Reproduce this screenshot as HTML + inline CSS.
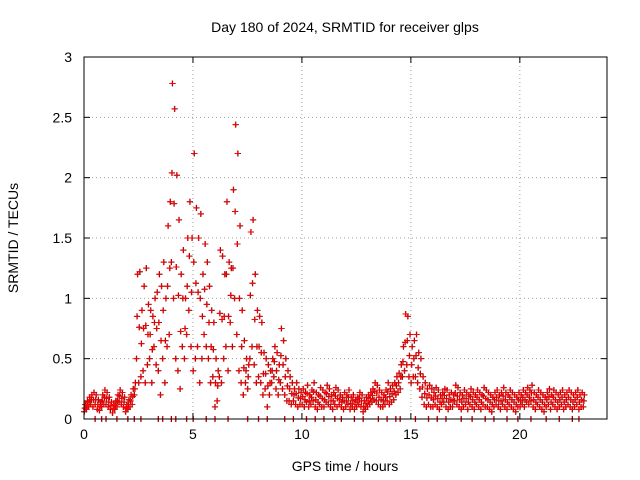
<!DOCTYPE html>
<html><head><meta charset="utf-8">
<style>
body{margin:0;background:#fff;}
svg{display:block;font-family:"Liberation Sans",sans-serif;}
</style></head>
<body>
<svg id="chart" width="640" height="480" viewBox="0 0 640 480">
<rect width="640" height="480" fill="#fff"/>
<text x="345" y="32" font-size="14" text-anchor="middle">Day 180 of 2024, SRMTID for receiver glps</text>
<text x="0" y="0" font-size="14" text-anchor="middle" transform="translate(18,238) rotate(-90)">SRMTID / TECUs</text>
<text x="345" y="471" font-size="14" text-anchor="middle">GPS time / hours</text>
<g id="grid"></g><g id="marks"></g><g id="axes"></g>
</svg>
<script>
const xTicks=[0,5,10,15,20];
const yTicks=[0,0.5,1,1.5,2,2.5,3];
const yTickLabels=["0","0.5","1","1.5","2","2.5","3"];
const step=0.1;
const hiVals=[.12,.15,.18,.2,.22,.2,.16,.14,.2,.24,.22,.18,.14,.12,.15,.2,.24,.22,.18,.12,
.16,.2,.25,.3,1.2,1.22,.9,1.1,1.25,.95,
.9,.85,1.0,1.05,1.2,1.1,1.3,1.0,1.6,1.8,
2.78,2.57,2.02,1.65,1.2,1.4,1.0,1.5,1.8,1.5,
2.2,1.75,1.5,1.7,1.2,1.45,1.3,1.1,.9,.8,
.5,.4,1.4,1.35,1.2,1.8,1.3,1.25,1.9,2.44,
2.2,1.6,.9,.65,.5,.45,1.55,1.65,1.2,.9,
.85,.8,.55,.5,.45,.4,.5,.6,.55,.45,
.75,.65,.5,.4,.35,.3,.25,.3,.25,.22,
.25,.22,.28,.2,.24,.3,.22,.2,.26,.24,.22,.28,.25,.2,.22,.26,.24,.2,.18,.22,
.2,.24,.18,.2,.16,.18,.22,.2,.15,.18,.2,.22,.25,.3,.28,.24,.22,.2,.24,.3,.25,.28,.3,.35,.38,
.45,.6,.87,.85,.7,
.6,.65,.7,.55,.5,.35,.3,.25,.28,.25,
.22,.26,.24,.2,.22,.25,.24,.2,.22,.2,.28,.26,.22,.2,.24,.22,.2,.25,.22,.2,
.24,.22,.2,.26,.24,.22,.2,.18,.22,.24,.2,.22,.26,.22,.2,.24,.22,.2,.18,.22,
.2,.24,.22,.26,.24,.28,.22,.2,.24,.22,.2,.18,.22,.25,.2,.24,.22,.2,.22,.24,
.2,.22,.24,.22,.2,.22,.24,.2,.22,.2];
const loVals=[.06,.08,.1,.12,.1,.12,.08,.07,.1,.12,.12,.1,.08,.05,.08,.1,.14,.12,.1,.06,
.08,.1,.12,.2,.5,.3,.35,.4,.3,.45,
.5,.3,.6,.45,.4,.2,.5,.3,.6,.7,
1.3,1.0,.5,.4,.25,.6,.5,.7,.9,.6,
.4,.5,.6,.3,.5,.7,.6,.5,.3,.35,
.1,.15,.35,.3,.5,.6,.4,.8,.6,1.0,
.7,.4,.3,.2,.3,.25,.5,.6,.45,.3,
.35,.3,.2,.25,.1,.2,.3,.35,.25,.2,
.3,.25,.2,.15,.15,.12,.15,.12,.1,.12,
.12,.1,.14,.1,.12,.15,.1,.08,.12,.1,.1,.14,.12,.1,.08,.12,.1,.12,.1,.08,
.1,.12,.08,.1,.08,.1,.12,.1,.06,.08,.1,.12,.14,.16,.15,.12,.1,.1,.12,.15,.12,.14,.16,.2,.22,
.25,.35,.4,.45,.35,
.3,.35,.35,.3,.25,.18,.12,.1,.12,.1,
.1,.12,.1,.08,.12,.14,.1,.08,.1,.1,.15,.12,.1,.08,.1,.12,.08,.12,.1,.08,
.12,.1,.08,.12,.1,.1,.08,.06,.1,.12,.1,.08,.12,.1,.08,.12,.1,.08,.06,.1,
.1,.12,.1,.14,.12,.15,.1,.08,.12,.1,.08,.06,.1,.12,.08,.12,.1,.08,.1,.12,
.08,.1,.12,.1,.08,.1,.12,.08,.1,.1];
const zeroTimes=[0.5,0.8,1.0,1.5,2.0,2.3,2.6,3.4,3.6,4.0,4.2,4.7,5.0,5.6,6.0,6.6,7.5,8.0,8.4,9.2,9.6,10.2,10.6,11.0,11.5,11.8,12.4,12.8,13.5,13.9,14.3,14.5,15.2,15.8,16.2,16.6,17.3,17.8,18.4,18.8,19.4,19.9,20.5,21.2,21.8,22.4,22.7];

const X0=84,X1=607,Y0=419,Y1=57,XMAX=24,YMAX=3;
const sx=t=>X0+(X1-X0)*t/XMAX;
const sy=v=>Y0-(Y0-Y1)*v/YMAX;
const NS="http://www.w3.org/2000/svg";
function mk(tag,attrs,parent){const e=document.createElementNS(NS,tag);for(const k in attrs)e.setAttribute(k,attrs[k]);parent.appendChild(e);return e;}
const grid=document.getElementById('grid'),axes=document.getElementById('axes'),marks=document.getElementById('marks');

xTicks.forEach((t,i)=>{
  if(t>0){const g=mk('line',{x1:sx(t),x2:sx(t),y1:Y0,y2:Y1,stroke:'#a0a0a0','stroke-dasharray':'1,3'},grid);
  
  }
  mk('line',{x1:sx(t),x2:sx(t),y1:Y0,y2:Y0-6,stroke:'#000'},axes);
  mk('line',{x1:sx(t),x2:sx(t),y1:Y1,y2:Y1+6,stroke:'#000'},axes);
  const l=mk('text',{x:sx(t),y:Y0+20,'font-size':14,'text-anchor':'middle'},axes);
  l.textContent=String(t);
  
  
});
yTicks.forEach((v,i)=>{
  if(v>0&&v<YMAX){const g=mk('line',{x1:X0,x2:X1,y1:sy(v),y2:sy(v),stroke:'#a0a0a0','stroke-dasharray':'1,3'},grid);
  
  }
  mk('line',{x1:X0,x2:X0+6,y1:sy(v),y2:sy(v),stroke:'#000'},axes);
  mk('line',{x1:X1,x2:X1-6,y1:sy(v),y2:sy(v),stroke:'#000'},axes);
  const l=mk('text',{x:X0-12,y:sy(v)+5,'font-size':14,'text-anchor':'end'},axes);
  l.textContent=yTickLabels[i];
  
  
});
const frame=mk('rect',{x:X0,y:Y1,width:X1-X0,height:Y0-Y1,fill:'none',stroke:'#000'},axes);



function plus(t,v,color){
  const x=sx(t),y=sy(v);
  const p=mk('path',{d:`M${x-3},${y}h6M${x},${y-3}v6`,stroke:color,'stroke-width':1,fill:'none'},marks);
  
  
}
['#000','#f00'].forEach((c,si)=>{
  const off=si?0:0.015;
  hiVals.forEach((v,i)=>{
    const t=i*step+off;
    plus(t,loVals[i],c);
    plus(t+0.05,v,c);
    plus(t+0.025,(v+loVals[i])/2,c);
  });
  zeroTimes.forEach(t=>plus(t+off,0,c));
});
</script>
</body></html>
